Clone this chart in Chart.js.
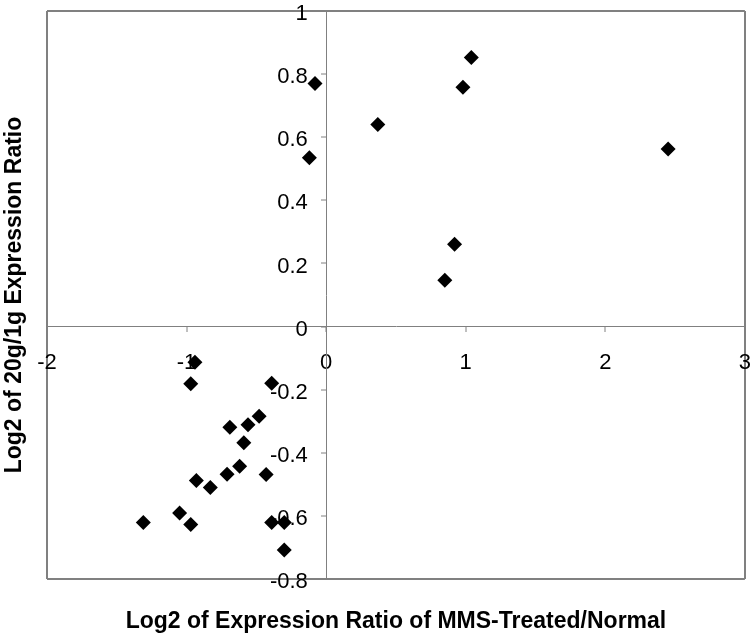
<!DOCTYPE html>
<html>
<head>
<meta charset="utf-8">
<style>
  html, body { margin: 0; padding: 0; background: #fff; }
  #wrap { width: 756px; height: 637px; }
</style>
</head>
<body>
<div id="wrap"><canvas id="chart" width="756" height="637"></canvas></div>
<script src="https://cdn.jsdelivr.net/npm/chart.js@4.4.1/dist/chart.umd.min.js"></script>
<script>
  // values
  const xValues = [-0.08, -0.12, 0.37, 1.04, 0.98, 2.45, 0.92, 0.85,
    -0.94, -0.97, -0.39, -0.48, -0.56, -0.69, -0.59, -0.62, -0.71, -0.43,
    -0.93, -0.83, -1.05, -1.31, -0.97, -0.39, -0.30, -0.30];
  const yValues = [0.77, 0.535, 0.64, 0.853, 0.758, 0.563, 0.261, 0.147,
    -0.113, -0.181, -0.18, -0.284, -0.311, -0.319, -0.368, -0.443, -0.468, -0.469,
    -0.488, -0.51, -0.591, -0.621, -0.627, -0.621, -0.621, -0.708];

  const xTitle = "Log2 of Expression Ratio of MMS-Treated/Normal";
  const yTitle = "Log2 of 20g/1g Expression Ratio";

  const axisGray = "#808080";
  const font = "'Liberation Sans', Arial, sans-serif";

  // frame edges come from the first/last grid lines
  function edgeColor(c) {
    const n = c.scale.ticks.length;
    return (c.index === 0 || c.index === n - 1) ? axisGray : "rgba(0,0,0,0)";
  }
  const fmt = v => String(Math.round(v * 10) / 10);

  const points = xValues.map((x, i) => ({ x: x, y: yValues[i] }));

  const ctx = document.getElementById("chart").getContext("2d");
  new Chart(ctx, {
    type: "scatter",
    data: {
      datasets: [{
        data: points,
        pointStyle: "rectRot",
        pointRadius: 7.5,
        pointHoverRadius: 7.5,
        backgroundColor: "#000",
        borderColor: "#000",
        borderWidth: 0
      }]
    },
    options: {
      responsive: false,
      animation: false,
      layout: { padding: { left: 0, right: 11, top: 11, bottom: 0 } },
      plugins: { legend: { display: false }, tooltip: { enabled: false } },
      scales: {
        x: {
          type: "linear",
          min: -2, max: 3,
          position: { y: 0 },
          ticks: { stepSize: 1, color: "#000", padding: 5, callback: fmt,
            font: { family: font, size: 22, lineHeight: 52 / 22 } },
          grid: { color: edgeColor, lineWidth: 2, tickColor: axisGray, tickLength: 5, tickWidth: 1 },
          border: { color: axisGray, width: 1 }
        },
        y: {
          type: "linear",
          min: -0.8, max: 1,
          position: { x: 0 },
          ticks: { stepSize: 0.2, color: "#000", padding: 0, labelOffset: 3,
            callback: v => fmt(v) + "   ",
            font: { family: font, size: 22, lineHeight: 1 } },
          grid: { color: edgeColor, lineWidth: 2, tickColor: axisGray, tickLength: 5, tickWidth: 1 },
          border: { color: axisGray, width: 1 }
        },
        xt: {
          axis: "x",
          type: "linear",
          position: "bottom",
          ticks: { display: false },
          grid: { display: false, drawTicks: false },
          border: { display: false },
          title: { display: true, text: xTitle, color: "#000",
            padding: { top: 29.2, bottom: 1.2 },
            font: { family: font, size: 23, weight: "bold", lineHeight: 1.2 } }
        },
        yt: {
          axis: "y",
          type: "linear",
          position: "left",
          ticks: { display: false },
          grid: { display: false, drawTicks: false },
          border: { display: false },
          title: { display: true, text: yTitle, color: "#000",
            padding: { top: 1.2, bottom: 18.2 },
            font: { family: font, size: 23, weight: "bold", lineHeight: 1.2 } }
        }
      }
    }
  });
</script>
</body>
</html>
